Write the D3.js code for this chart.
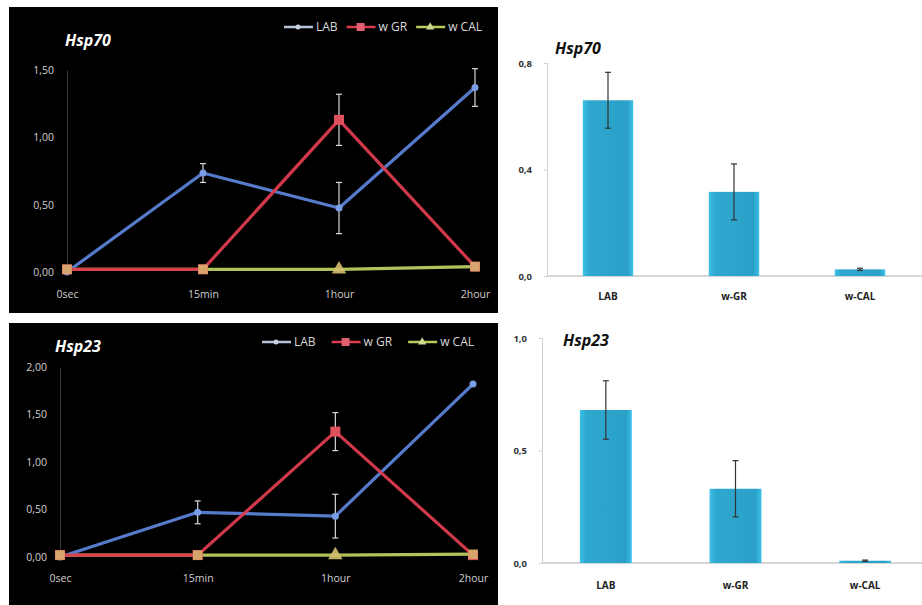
<!DOCTYPE html>
<html><head><meta charset="utf-8">
<script src="https://cdn.jsdelivr.net/npm/d3@7"></script>
<style>body{margin:0;background:#fff}svg{display:block}</style>
</head><body>
<svg id="c" width="922" height="605"></svg>
<script>
// ---- data ----
const times = ["0sec", "15min", "1hour", "2hour"];
const seriesNames = ["LAB", "w GR", "w CAL"];
const hsp70LAB = [0.00, 0.735, 0.475, 1.37];
const hsp70LABerr = [0, 0.07, 0.19, 0.14];
const hsp70GR = [0.02, 0.02, 1.13, 0.04];
const hsp70GRerr = [0, 0, 0.19, 0];
const hsp70CAL = [0.02, 0.02, 0.02, 0.04];
const hsp23LAB = [0.00, 0.47, 0.43, 1.82];
const hsp23LABerr = [0, 0.12, 0.23, 0];
const hsp23GR = [0.02, 0.02, 1.32, 0.02];
const hsp23GRerr = [0, 0, 0.2, 0];
const hsp23CAL = [0.02, 0.02, 0.02, 0.03];
const hsp70Ticks = [0, 0.5, 1.0, 1.5];
const hsp23Ticks = [0, 0.5, 1.0, 1.5, 2.0];
const barCats = ["LAB", "w-GR", "w-CAL"];
const hsp70Bar = [0.66, 0.316, 0.025];
const hsp70BarErr = [0.105, 0.105, 0.004];
const hsp23Bar = [0.68, 0.33, 0.01];
const hsp23BarErr = [0.13, 0.125, 0.003];
const hsp70BarTicks = [0, 0.4, 0.8];
const hsp23BarTicks = [0, 0.5, 1.0];

const svg = d3.select("#c");
const font = "'Open Sans', 'Noto Sans', sans-serif";
const colors = ["#5b82d6", "#dc3c4e", "#bccb5e"];
const comma = (d, n) => d.toFixed(n).replace(".", ",");

function linePanel(cfg) {
  const g = svg.append("g");
  g.append("rect").attr("x", cfg.box[0]).attr("y", cfg.box[1])
    .attr("width", cfg.box[2]).attr("height", cfg.box[3]).attr("fill", "#000");
  const x = d3.scalePoint().domain(times).range(cfg.xr);
  const y = d3.scaleLinear().domain(cfg.yd).range(cfg.yr);
  const ya = g.append("g").attr("transform", `translate(${cfg.xr[0]},0)`)
    .call(d3.axisLeft(y).tickValues(cfg.ticks).tickSize(0).tickPadding(13).tickFormat(d => comma(d, 2)));
  ya.select(".domain").attr("stroke", "#3a3a3a");
  ya.selectAll("text").attr("fill", "#cfcfcf").style("font-family", font).style("font-size", "10.5px");
  const xa = g.append("g").attr("transform", `translate(0,${cfg.xLabelY})`)
    .call(d3.axisBottom(x).tickSize(0).tickPadding(0));
  xa.select(".domain").remove();
  xa.selectAll("text").attr("fill", "#cfcfcf").style("font-family", font).style("font-size", "10.5px");
  g.append("text").attr("x", cfg.title[0]).attr("y", cfg.title[1]).text(cfg.name)
    .attr("fill", "#fff").style("font-family", font).style("font-size", "16px")
    .style("font-weight", "bold").style("font-style", "italic");
  const line = d3.line().x((d, i) => x(times[i])).y(d => y(d));
  const data = [cfg.lab, cfg.gr, cfg.cal];
  const errs = [cfg.labErr, cfg.grErr, null];
  [2, 0, 1].forEach(k => {
    g.append("path").datum(data[k]).attr("d", line).attr("fill", "none")
      .attr("stroke", colors[k]).attr("stroke-width", 3.2).attr("stroke-linejoin", "round").attr("opacity", 0.95);
  });
  [0, 1].forEach(k => {
    data[k].forEach((v, i) => {
      const e = errs[k][i]; if (!e) return;
      const cx = x(times[i]);
      g.append("line").attr("x1", cx).attr("x2", cx).attr("y1", y(v - e)).attr("y2", y(v + e))
        .attr("stroke", "#d8d8d8").attr("stroke-width", 1.2);
      [v - e, v + e].forEach(t => g.append("line").attr("x1", cx - 3).attr("x2", cx + 3)
        .attr("y1", y(t)).attr("y2", y(t)).attr("stroke", "#d8d8d8").attr("stroke-width", 1.2));
    });
  });
  data[0].forEach((v, i) => g.append("circle").attr("cx", x(times[i])).attr("cy", y(v)).attr("r", 3.5).attr("fill", "#7a9ee6"));
  data[1].forEach((v, i) => g.append("rect").attr("x", x(times[i]) - 5).attr("y", y(v) - 5)
    .attr("width", 10).attr("height", 10).attr("fill", "#e0505c"));
  data[2].forEach((v, i) => g.append("path").attr("transform", `translate(${x(times[i])},${y(v)})`)
    .attr("d", d3.symbol(i === 2 ? d3.symbolTriangle : d3.symbolSquare, 90)()).attr("fill", "#d4c070").attr("opacity", i === 2 ? 0.9 : 0.75));
  let lx = cfg.legend[0];
  const ly = cfg.legend[1];
  seriesNames.forEach((n, k) => {
    g.append("line").attr("x1", lx).attr("x2", lx + 29).attr("y1", ly).attr("y2", ly)
      .attr("stroke", k === 0 ? "#b8c4d8" : colors[k]).attr("stroke-width", 2.5);
    if (k === 0) g.append("circle").attr("cx", lx + 14).attr("cy", ly).attr("r", 2.5).attr("fill", "#c8d0e0");
    if (k === 1) g.append("rect").attr("x", lx + 10).attr("y", ly - 4).attr("width", 8).attr("height", 8).attr("fill", "#e06070");
    if (k === 2) g.append("path").attr("transform", `translate(${lx + 14},${ly})`).attr("d", d3.symbol(d3.symbolTriangle, 30)()).attr("fill", "#d0d890");
    const t = g.append("text").attr("x", lx + 32).attr("y", ly + 4).text(n)
      .attr("fill", "#d8d8d8").style("font-family", font).style("font-size", "12px");
    lx += 32 + t.node().getComputedTextLength() + cfg.legendGap;
  });
}

function barPanel(cfg) {
  const g = svg.append("g");
  const x = d3.scaleBand().domain(barCats).range(cfg.xr).paddingInner(0.6).paddingOuter(0.3);
  const y = d3.scaleLinear().domain(cfg.yd).range(cfg.yr);
  const ya = g.append("g").attr("transform", `translate(${cfg.axisX},0)`)
    .call(d3.axisLeft(y).tickValues(cfg.ticks).tickSize(3).tickPadding(12).tickFormat(d => comma(d, 1)));
  ya.selectAll("path,line").attr("stroke", "#d0d0d0");
  ya.selectAll("text").attr("fill", "#333").style("font-family", font).style("font-size", "9.5px").style("font-weight", "bold");
  g.append("line").attr("x1", cfg.axisX).attr("x2", 922).attr("y1", y(0)).attr("y2", y(0)).attr("stroke", "#c8c8c8").attr("stroke-width", 1.5);
  const defs = svg.append("defs");
  const grad = defs.append("linearGradient").attr("id", "bg" + cfg.id).attr("x1", 0).attr("x2", 1).attr("y1", 0).attr("y2", 0);
  grad.append("stop").attr("offset", "0%").attr("stop-color", "#3cc0e8");
  grad.append("stop").attr("offset", "12%").attr("stop-color", "#2fa8d0");
  grad.append("stop").attr("offset", "88%").attr("stop-color", "#2aa0c8");
  grad.append("stop").attr("offset", "100%").attr("stop-color", "#3cc0e8");
  cfg.vals.forEach((v, i) => {
    g.append("rect").attr("x", x(barCats[i])).attr("y", y(v)).attr("width", x.bandwidth())
      .attr("height", y(0) - y(v)).attr("fill", `url(#bg${cfg.id})`);
    const cx = x(barCats[i]) + x.bandwidth() / 2, e = cfg.errs[i];
    g.append("line").attr("x1", cx).attr("x2", cx).attr("y1", y(v - e)).attr("y2", y(v + e)).attr("stroke", "#333").attr("stroke-width", 1.2);
    [v - e, v + e].forEach(t => g.append("line").attr("x1", cx - 3).attr("x2", cx + 3).attr("y1", y(t)).attr("y2", y(t)).attr("stroke", "#333").attr("stroke-width", 1.2));
  });
  const xa = g.append("g").attr("transform", `translate(0,${cfg.xLabelY})`)
    .call(d3.axisBottom(x).tickSize(0).tickPadding(0));
  xa.select(".domain").remove();
  xa.selectAll("text").attr("fill", "#222").style("font-family", font).style("font-size", "10px").style("font-weight", "bold");
  g.append("text").attr("x", cfg.title[0]).attr("y", cfg.title[1]).text(cfg.name)
    .attr("fill", "#111").style("font-family", font).style("font-size", "16px")
    .style("font-weight", "bold").style("font-style", "italic");
}

linePanel({ name: "Hsp70", box: [9, 7, 489, 306], xr: [67, 475], yd: [0, 1.5], yr: [272, 70],
  ticks: hsp70Ticks, xLabelY: 291, title: [65, 46], legend: [284, 27], legendGap: 9,
  lab: hsp70LAB, labErr: hsp70LABerr, gr: hsp70GR, grErr: hsp70GRerr, cal: hsp70CAL });
linePanel({ name: "Hsp23", box: [9, 323, 489, 282], xr: [60, 473], yd: [0, 2], yr: [557, 367],
  ticks: hsp23Ticks, xLabelY: 575, title: [55, 352], legend: [262, 342], legendGap: 16,
  lab: hsp23LAB, labErr: hsp23LABerr, gr: hsp23GR, grErr: hsp23GRerr, cal: hsp23CAL });
barPanel({ id: 1, name: "Hsp70", xr: [545, 923], yd: [0, 0.8], yr: [276, 63], axisX: 547,
  ticks: hsp70BarTicks, xLabelY: 293, title: [555, 54], vals: hsp70Bar, errs: hsp70BarErr });
barPanel({ id: 2, name: "Hsp23", xr: [541, 930], yd: [0, 1.0], yr: [563, 338], axisX: 542,
  ticks: hsp23BarTicks, xLabelY: 582, title: [563, 346], vals: hsp23Bar, errs: hsp23BarErr });
</script>
</body></html>
